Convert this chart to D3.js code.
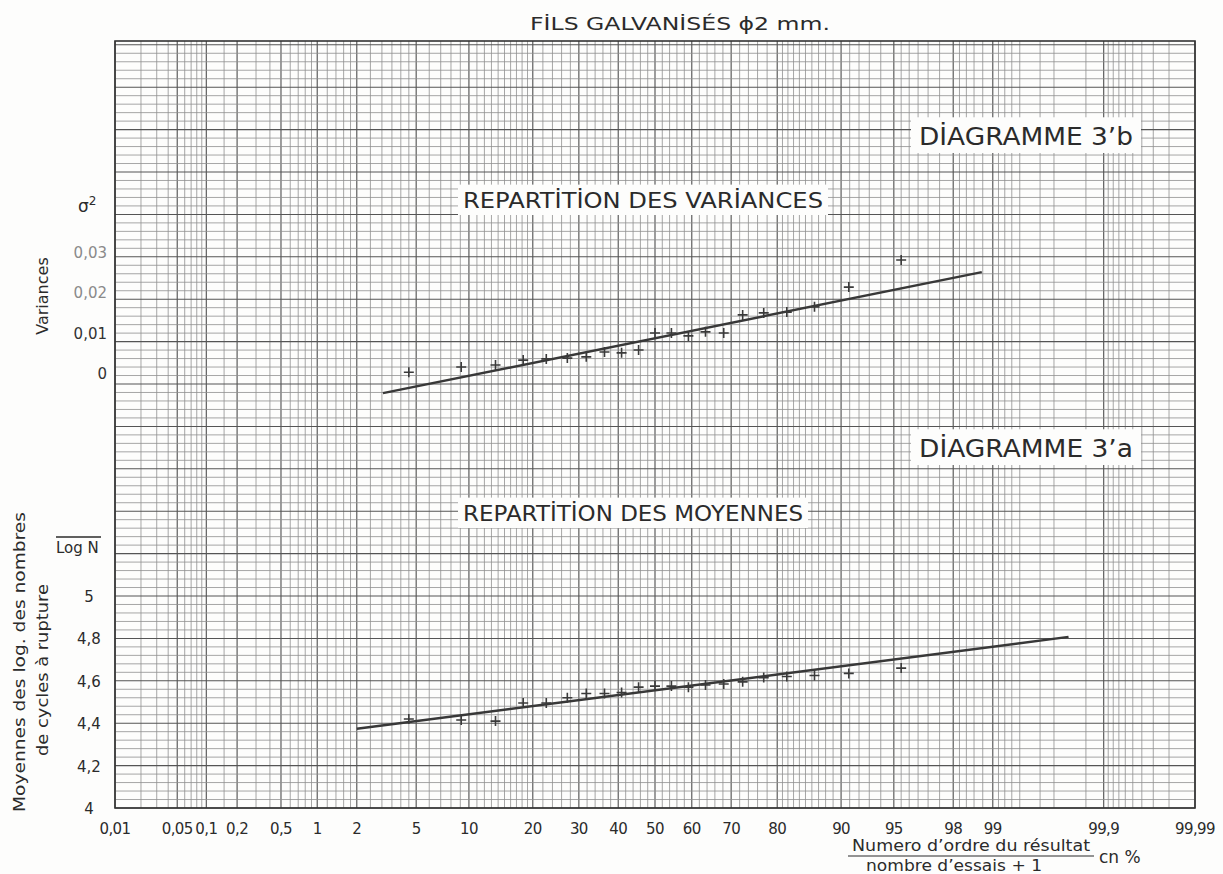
<!DOCTYPE html>
<html>
<head>
<meta charset="utf-8">
<script src="https://cdn.jsdelivr.net/npm/d3@7/dist/d3.min.js"></script>
<style>
  html, body { margin: 0; padding: 0; background: #fdfdfc; }
  svg { display: block; }
  text { font-family: "DejaVu Sans", "Noto Sans", sans-serif; fill: #2b2b2b; }
</style>
</head>
<body>
<svg id="chart" width="1223" height="874"></svg>
<script>
// Probability axis: tick values (in %) and their printed labels
const probTicks  = [0.01, 0.05, 0.1, 0.2, 0.5, 1, 2, 5, 10, 20, 30, 40, 50, 60, 70, 80, 90, 95, 98, 99, 99.9, 99.99];
const probLabels = ["0,01", "0,05", "0,1", "0,2", "0,5", "1", "2", "5", "10", "20", "30", "40", "50", "60", "70", "80", "90", "95", "98", "99", "99,9", "99,99"];

// Plotting positions (rank / (n + 1), in %) for the 21 results
const rankPct = [4.5, 9.1, 13.6, 18.2, 22.7, 27.3, 31.8, 36.4, 40.9, 45.5, 50.0,
                 54.5, 59.1, 63.6, 68.2, 72.7, 77.3, 81.8, 86.4, 90.9, 95.5];

// Diagramme 3'b : variances
const varianceValues = [0.0002, 0.0015, 0.0020, 0.0032, 0.0035, 0.0037, 0.0040, 0.0052, 0.0050, 0.0057, 0.0099,
                        0.0099, 0.0092, 0.0102, 0.0099, 0.0144, 0.0149, 0.0151, 0.0164, 0.0213, 0.0280];
const varianceFitPct = [3.05, 98.78];
const varianceFit    = [-0.0050, 0.0250];
const varianceTicks  = [0, 0.01, 0.02, 0.03];
const varianceLabels = ["0", "0,01", "0,02", "0,03"];

// Diagramme 3'a : moyennes des log N
const meanValues = [4.420, 4.415, 4.410, 4.495, 4.495, 4.520, 4.540, 4.540, 4.545, 4.570, 4.575,
                    4.575, 4.570, 4.580, 4.585, 4.595, 4.615, 4.620, 4.625, 4.635, 4.660];
const meanFitPct = [2.0, 99.78];
const meanFit    = [4.374, 4.807];
const meanTicks  = [4, 4.2, 4.4, 4.6, 4.8, 5];
const meanLabels = ["4", "4,2", "4,4", "4,6", "4,8", "5"];

// Inverse of the standard normal CDF (Acklam's rational approximation)
function probit(p) {
  const a = [-3.969683028665376e+01, 2.209460984245205e+02, -2.759285104469687e+02, 1.383577518672690e+02, -3.066479806614716e+01, 2.506628277459239e+00];
  const b = [-5.447609879822406e+01, 1.615858368580409e+02, -1.556989798598866e+02, 6.680131188771972e+01, -1.328068155288572e+01];
  const c = [-7.784894002430293e-03, -3.223964580411365e-01, -2.400758277161838e+00, -2.549732539343734e+00, 4.374664141464968e+00, 2.938163982698783e+00];
  const d = [7.784695709041462e-03, 3.224671290700398e-01, 2.445134137142996e+00, 3.754408661907416e+00];
  const pl = 0.02425, ph = 1 - pl;
  if (p < pl) {
    const q = Math.sqrt(-2 * Math.log(p));
    return (((((c[0]*q+c[1])*q+c[2])*q+c[3])*q+c[4])*q+c[5]) / ((((d[0]*q+d[1])*q+d[2])*q+d[3])*q+1);
  }
  if (p <= ph) {
    const q = p - 0.5, r = q * q;
    return (((((a[0]*r+a[1])*r+a[2])*r+a[3])*r+a[4])*r+a[5])*q / (((((b[0]*r+b[1])*r+b[2])*r+b[3])*r+b[4])*r+1);
  }
  const q = Math.sqrt(-2 * Math.log(1 - p));
  return -(((((c[0]*q+c[1])*q+c[2])*q+c[3])*q+c[4])*q+c[5]) / ((((d[0]*q+d[1])*q+d[2])*q+d[3])*q+1);
}

const frame = { left: 115, right: 1195, top: 41, bottom: 808 };

// Normal-probability x scale: linear in the normal quantile
const zScale = d3.scaleLinear()
  .domain([probit(0.0001), probit(0.9999)])
  .range([frame.left, frame.right]);
const x = pct => zScale(probit(pct / 100));

// Ordinate scales of the two diagrams sharing the same sheet
const yMean = d3.scaleLinear().domain([4, 5]).range([frame.bottom, 596]);
const yVar  = d3.scaleLinear().domain([0, 0.03]).range([373, 252]);

const svg = d3.select("#chart");
svg.append("rect").attr("width", 1223).attr("height", 874).attr("fill", "#fdfdfc");

// ---- probability paper grid ----
const grid = svg.append("g");

// vertical rulings: fine subdivisions on the lower half, mirrored above 50 %
const halfMinor = [].concat(
  d3.range(0.02, 0.1, 0.01),
  [0.15, 0.3, 0.4, 0.6, 0.7, 0.8, 0.9],
  [1.2, 1.4, 1.6, 1.8],
  [2.5, 3, 3.5, 4, 4.5],
  [6, 7, 8, 9],
  d3.range(11, 20, 1),
  [22, 24, 26, 28, 32, 34, 36, 38, 42, 44, 46, 48]
).map(v => +v.toFixed(3));
const minorV = halfMinor.concat(halfMinor.map(v => +(100 - v).toFixed(3)))
  .filter(v => probTicks.indexOf(v) < 0);

grid.selectAll("line.vminor").data(minorV).join("line")
  .attr("x1", d => x(d)).attr("x2", d => x(d))
  .attr("y1", frame.top).attr("y2", frame.bottom)
  .attr("stroke", "#8f8f8f").attr("stroke-width", 0.8);

grid.selectAll("line.vmajor").data(probTicks).join("line")
  .attr("x1", d => x(d)).attr("x2", d => x(d))
  .attr("y1", frame.top).attr("y2", frame.bottom)
  .attr("stroke", "#4e4e4e").attr("stroke-width", 1.1);

// horizontal rulings every 0.04 on the log N scale, heavier every 0.2
const hLines = d3.range(0, 91).map(k => 4 + k * 0.04);
grid.selectAll("line.h").data(hLines).join("line")
  .attr("x1", frame.left).attr("x2", frame.right)
  .attr("y1", d => yMean(d)).attr("y2", d => yMean(d))
  .attr("stroke", (d, i) => i % 5 === 0 ? "#555" : "#8f8f8f")
  .attr("stroke-width", (d, i) => i % 5 === 0 ? 1.05 : 0.8);

grid.append("rect")
  .attr("x", frame.left).attr("y", frame.top)
  .attr("width", frame.right - frame.left).attr("height", frame.bottom - frame.top)
  .attr("fill", "none").attr("stroke", "#333").attr("stroke-width", 1.6);

// ---- lettered captions on white cartouches ----
function cartouche(label, x0, baseline, len, size, padX, padTop, padBottom) {
  const g = svg.append("g");
  g.append("rect")
    .attr("x", x0 - padX).attr("y", baseline - size * 0.78 - padTop)
    .attr("width", len + 2 * padX).attr("height", size * 0.78 + padTop + padBottom)
    .attr("fill", "#fdfdfc");
  g.append("text")
    .attr("x", x0).attr("y", baseline)
    .attr("font-size", size)
    .attr("textLength", len).attr("lengthAdjust", "spacingAndGlyphs")
    .text(label);
}
cartouche("DİAGRAMME 3’b", 919, 145, 214, 24, 8, 9, 8);
cartouche("REPARTİTİON DES VARİANCES", 463, 208, 360, 21, 5, 7, 7);
cartouche("DİAGRAMME 3’a", 919, 457, 214, 24, 8, 9, 8);
cartouche("REPARTİTİON DES MOYENNES", 463, 521, 340, 21, 5, 7, 7);

// ---- fitted lines and plotted results ----
const line = d3.line();

svg.append("path")
  .attr("d", line(varianceFitPct.map((p, i) => [x(p), yVar(varianceFit[i])])))
  .attr("stroke", "#383838").attr("stroke-width", 2.4).attr("fill", "none");

svg.append("path")
  .attr("d", line(meanFitPct.map((p, i) => [x(p), yMean(meanFit[i])])))
  .attr("stroke", "#383838").attr("stroke-width", 2.4).attr("fill", "none");

const cross = (cx, cy) => `M${cx - 5},${cy}H${cx + 5}M${cx},${cy - 5}V${cy + 5}`;

svg.append("g").selectAll("path").data(rankPct).join("path")
  .attr("d", (p, i) => cross(x(p), yVar(varianceValues[i])))
  .attr("stroke", "#3a3a3a").attr("stroke-width", 1.6).attr("fill", "none");

svg.append("g").selectAll("path").data(rankPct).join("path")
  .attr("d", (p, i) => cross(x(p), yMean(meanValues[i])))
  .attr("stroke", "#3a3a3a").attr("stroke-width", 1.6).attr("fill", "none");

// ---- axes lettering ----
svg.append("g").selectAll("text").data(probTicks).join("text")
  .attr("x", d => x(d)).attr("y", 834)
  .attr("text-anchor", "middle").attr("font-size", 15)
  .attr("letter-spacing", -0.6)
  .text((d, i) => probLabels[i]);

svg.append("g").selectAll("text").data(varianceTicks).join("text")
  .attr("x", 107).attr("y", d => yVar(d) + 6)
  .attr("text-anchor", "end").attr("font-size", 15)
  .style("fill", d => d >= 0.02 ? "#8a8a8a" : "#333")
  .text((d, i) => varianceLabels[i]);

svg.append("g").selectAll("text").data(meanTicks).join("text")
  .attr("x", 89).attr("y", d => yMean(d) + 6)
  .attr("text-anchor", "middle").attr("font-size", 15)
  .text((d, i) => meanLabels[i]);

// sigma squared
const sig = svg.append("text").attr("x", 78).attr("y", 212).attr("font-size", 17);
sig.append("tspan").text("σ");
sig.append("tspan").attr("font-size", 12).attr("dy", -7).text("2");

// overlined Log N
svg.append("text").attr("x", 56).attr("y", 553).attr("font-size", 15).text("Log N");
svg.append("line").attr("x1", 56).attr("x2", 101).attr("y1", 537).attr("y2", 537)
  .attr("stroke", "#2b2b2b").attr("stroke-width", 1.4);

// rotated axis titles
svg.append("text")
  .attr("transform", "translate(48,296) rotate(-90)")
  .attr("text-anchor", "middle").attr("font-size", 16)
  .text("Variances");
svg.append("text")
  .attr("transform", "translate(25,662) rotate(-90)")
  .attr("text-anchor", "middle").attr("font-size", 16)
  .attr("textLength", 300).attr("lengthAdjust", "spacingAndGlyphs")
  .text("Moyennes des log. des nombres");
svg.append("text")
  .attr("transform", "translate(48,670) rotate(-90)")
  .attr("text-anchor", "middle").attr("font-size", 16)
  .attr("textLength", 172).attr("lengthAdjust", "spacingAndGlyphs")
  .text("de cycles à rupture");

// abscissa caption written as a fraction, below the tick labels
svg.append("text").attr("x", 852).attr("y", 851).attr("font-size", 15)
  .attr("textLength", 238).attr("lengthAdjust", "spacingAndGlyphs")
  .text("Numero d’ordre du résultat");
svg.append("line").attr("x1", 848).attr("x2", 1094).attr("y1", 856).attr("y2", 856)
  .attr("stroke", "#2b2b2b").attr("stroke-width", 1.2);
svg.append("text").attr("x", 866).attr("y", 871).attr("font-size", 15)
  .attr("textLength", 176).attr("lengthAdjust", "spacingAndGlyphs")
  .text("nombre d’essais + 1");
svg.append("text").attr("x", 1099).attr("y", 863).attr("font-size", 17)
  .text("cn %");

// sheet title
svg.append("text").attr("x", 530).attr("y", 30).attr("font-size", 17)
  .attr("textLength", 300).attr("lengthAdjust", "spacingAndGlyphs")
  .text("FİLS GALVANİSÉS ϕ2 mm.");
</script>
</body>
</html>
